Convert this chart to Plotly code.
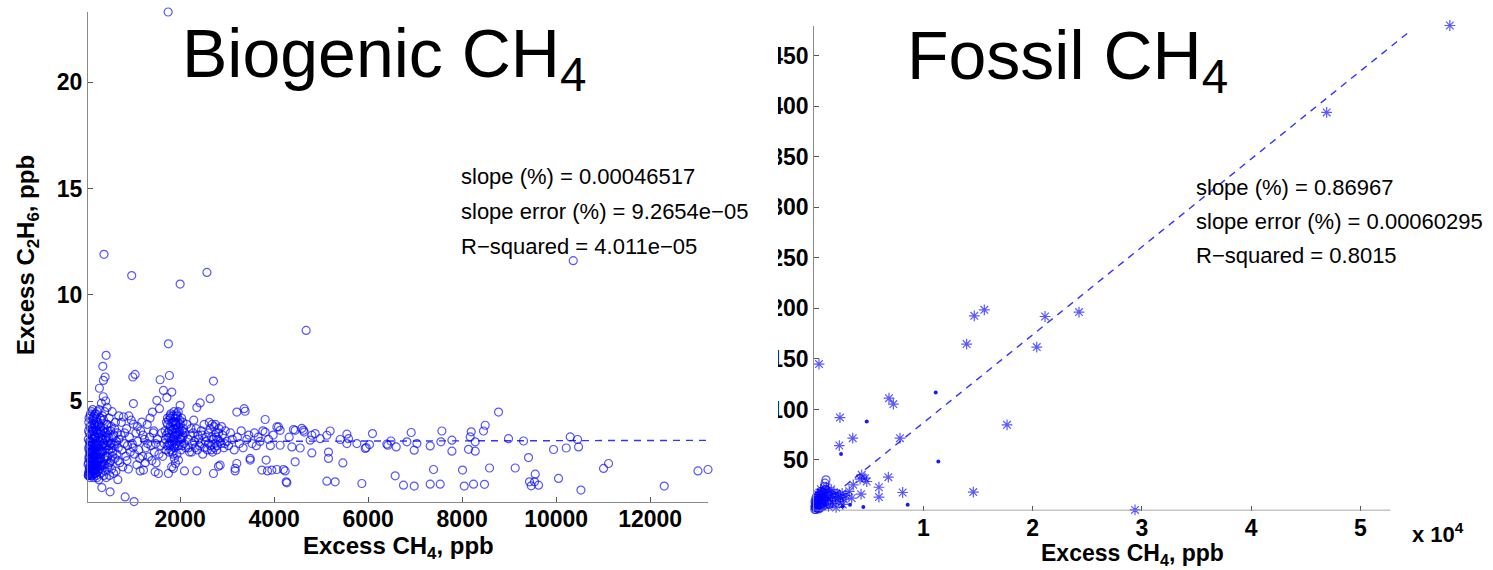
import plotly.graph_objects as go

# ---------------- data ----------------
# Biogenic CH4 panel: (excess CH4 ppb, excess C2H6 ppb)
bio_a1 = [(45,1.5),(50,2.1),(55,2.8),(60,1.7),(65,2.4),(70,3.1),(75,1.9),(80,2.6),(85,1.4),(90,2.2),
          (95,3.4),(100,1.8),(105,2.9),(110,2.3),(115,1.6),(120,3.7),(125,2.0),(130,2.7),(135,1.5),(140,3.2),
          (145,2.5),(150,1.9),(155,4.1),(160,2.2),(165,3.0),(170,1.7),(175,2.8),(180,3.9),(185,2.4),(190,1.6),
          (195,3.3),(200,2.1),(205,2.9),(210,4.4),(215,1.8),(220,2.6),(225,3.6),(230,2.0),(235,1.4),(240,3.0),
          (245,2.3),(250,4.0)]
bio_a2 = [(255,1.7),(260,3.5),(265,2.7),(270,1.3),(275,4.6),(280,2.2),(283,5.6),(290,3.1),(295,1.9),(300,4.2),
          (305,2.5),(310,3.8),(315,1.6),(320,2.9),(325,4.9),(330,2.1),(334,0.93),(340,3.4),(345,1.8),(350,4.3),
          (355,6.63),(360,2.6),(365,5.2),(368,5.97),(370,3.0),(375,1.5),(380,11.9),(385,3.7),(390,2.3),(395,4.5),
          (404,6.13),(405,1.7),(410,3.2),(415,5.0),(420,2.8),(425,7.15),(430,1.4),(435,3.9),(440,2.4),(445,4.7),
          (450,3.1)]
bio_a3 = [(460,1.9),(470,3.6),(480,2.7),(490,4.2),(500,1.5),(510,0.73),(515,3.0),(525,2.2),(535,3.8),(545,1.8),
          (555,4.5),(565,2.6),(575,3.3),(585,1.6),(595,2.9),(605,3.7),(615,2.3),(625,4.0),(635,1.7),(645,3.1),
          (655,2.5),(665,3.5),(675,1.3),(685,2.8),(695,4.3),(700,3.2)]
bio_a5 = [(48,1.51),(52,3.6),(58,2.3),(62,4.2),(68,1.8),(72,2.9),(78,3.8),(82,1.6),(88,2.5),(92,4.4),
          (98,2.0),(102,3.1),(108,1.5),(112,3.9),(118,2.6),(122,1.9),(128,3.4),(132,2.2),(138,4.6),(142,1.7),
          (148,2.8),(152,3.6),(158,1.4),(162,2.4),(168,3.3),(172,4.3),(178,2.0),(182,1.6),(188,3.0),(192,2.6),
          (198,3.8),(202,1.8),(208,2.4),(212,3.3),(218,4.0),(222,1.5),(228,2.9),(232,3.5),(238,2.1),(242,4.5),
          (248,1.9),(262,2.5),(272,3.3),(286,1.8),(298,2.6),(312,3.5),(328,2.0),(342,2.7),(358,3.6),(372,4.1),
          (388,2.0),(402,2.9),(418,3.5),(432,2.2),(448,3.9),(465,2.4),(485,3.3),(505,2.1),(530,3.0),(560,2.4)]
bio_a6 = [(42,2.0),(46,3.2),(53,1.6),(57,4.0),(63,2.7),(67,3.5),(73,1.5),(77,2.3),(83,3.1),(87,4.3),
          (93,1.7),(97,2.6),(103,3.8),(107,2.1),(113,2.9),(117,4.5),(123,1.6),(127,3.0),(133,2.4),(137,3.6),
          (143,2.0),(147,4.2),(153,2.7),(157,3.2),(163,1.8),(167,3.9),(173,2.3),(177,3.4),(183,2.9),(187,4.4),
          (193,2.0),(197,2.5),(203,3.7),(207,1.6),(213,2.8),(217,3.1),(223,4.2),(227,2.2),(233,2.6),(237,3.8),
          (252,2.9),(267,3.9),(278,2.0),(292,3.6),(303,2.3),(318,4.1),(332,2.6),(348,3.2),(362,2.0),(378,3.0),
          (392,3.5),(408,2.4),(422,3.3),(438,2.9),(455,3.4),(475,2.0),(495,2.9),(520,3.6),(550,2.8),(590,3.4)]
bio_a4 = [(620,3.0),(680,2.2),(720,2.1),(740,3.4),(750,4.0),(760,2.7),(780,1.9),(794,4.25),(810,3.0),(820,3.5),
          (830,0.49),(845,2.4),(860,3.7),(870,2.2),(880,2.9),(900,1.8),(910,4.3),(920,3.3),(940,2.6),(960,4.1),
          (970,10.9),(980,3.0),(993,6.13),(1000,2.8),(1006,4.88),(1006,3.91),(1020,0.27),(1030,2.5),(1042,6.25),(1060,3.5),
          (1080,2.0),(1090,3.8),(1100,3.1),(1120,2.7),(1140,2.3),(1149,1.71),(1160,3.6),(1185,4.01),(1200,2.4),(1210,3.4),
          (1220,1.75),(1240,3.2),(1260,2.1),(1270,2.8),(1300,3.9),(1310,3.0),(1325,2.37),(1350,3.3),(1360,4.2),(1380,2.9),
          (1400,2.2),(1411,4.48),(1430,3.5),(1440,3.6),(1450,2.6),(1468,1.67),(1480,3.0),(1489,2.09),(1504,5.03),(1520,3.2),
          (1538,1.59),(1550,2.5),(1560,4.64),(1574,6.0),(1590,2.9),(1610,3.5),(1630,2.4)]
bio_b = [(1645,5.5),(1660,3.0),(1680,3.6),(1690,3.2),(1700,2.7),(1710,4.0),(1717,5.16),(1730,4.2),(1740,3.5),(1745,23.3),
         (1751,1.59),(1751,7.69),(1760,3.3),(1770,3.0),(1772,6.2),(1780,2.9),(1790,3.8),(1795,4.2),(1800,4.4),(1810,3.1),
         (1815,3.6),(1820,1.9),(1823,5.42),(1830,2.6),(1840,3.5),(1845,4.3),(1850,4.0),(1850,2.5),(1857,1.83),(1860,3.2),
         (1865,2.9),(1870,4.5),(1880,2.8),(1880,2.3),(1885,3.4),(1890,3.7),(1900,4.2),(1900,2.06),(1905,3.9),(1910,3.0),
         (1920,3.9),(1925,4.4),(1930,2.5),(1940,4.3),(1945,3.1),(1950,3.4),(1960,4.5),(1964,2.22),(1970,3.8),(1975,3.5),
         (1980,2.9),(1990,4.1),(1995,3.2),(2000,10.5),(2000,4.8),(2010,3.3),(2020,2.7),(2030,4.2),(2040,3.6),(2050,3.3),
         (2060,4.0),(2070,3.7),(2080,3.0),(2092,1.71),(2100,3.5),(2120,2.8),(2140,3.9)]
bio_b2 = [(1705,3.4),(1725,2.9),(1735,3.9),(1755,4.1),(1765,3.6),(1785,4.3),(1805,3.3),(1825,4.0),(1835,3.0),(1855,3.7),
          (1875,3.3),(1895,4.0),(1915,3.5),(1935,3.7),(1955,4.0),(1985,3.6),(2005,3.9),(2025,3.2),(2045,2.9),(2065,3.4),
          (1870,3.1),(1910,4.3),(1940,2.9),(1800,2.7),(1760,2.6)]
bio_c = [(2170,3.2),(2200,2.6),(2230,3.7),(2260,3.0),(2290,4.1),(2320,2.8),(2355,4.69),(2355,1.71),(2380,3.4),(2410,2.9),
         (2426,4.91),(2450,3.6),(2480,2.5),(2510,3.9),(2540,3.1),(2570,11.05),(2580,2.7),(2600,3.5),(2620,4.0),(2638,5.11),
         (2650,2.9),(2670,3.3),(2690,2.6),(2709,5.94),(2709,1.59),(2720,3.8),(2740,3.0),(2760,3.5),(2780,2.7),(2800,3.2),
         (2815,1.93),(2830,3.7),(2851,1.98),(2870,3.0),(2900,3.4),(2930,2.8),(2960,3.6),(2990,3.1)]
bio_c2 = [(2180,2.8),(2215,3.4),(2245,2.6),(2275,3.5),(2305,3.1),(2340,3.7),(2370,2.7),(2395,3.2),(2440,3.0),(2470,3.4),
          (2520,2.8),(2560,3.3),(2610,3.0),(2640,3.7),(2660,2.7),(2680,3.9),(2700,3.2),(2730,2.8),(2750,3.9),(2770,3.3),
          (2790,2.9),(2820,3.5),(2850,3.1),(2880,3.8),(2950,3.0)]
bio_d = [(3030,2.9),(3070,3.5),(3110,3.2),(3150,2.7),(3170,1.71),(3170,1.83),(3206,2.06),(3206,4.48),(3220,3.3),(3260,3.0),
         (3300,3.6),(3340,2.8),(3362,4.64),(3383,4.52),(3420,3.2),(3460,3.4),(3490,2.22),(3490,2.3),(3530,3.0),(3580,3.5),
         (3620,2.9),(3660,3.3),(3700,3.1),(3738,1.75),(3760,3.6),(3809,4.13),(3809,3.54),(3830,2.22),(3859,1.71),(3880,3.2),
         (3920,2.9),(3951,1.75),(3980,3.4),(4058,3.78),(4058,1.78),(4092,3.78),(4128,3.62),(4128,2.92),(4198,1.78),(4234,1.71),
         (4256,1.2),(4270,1.15),(4320,3.3),(4377,2.84),(4411,3.66),(4447,2.14),(4447,3.62),(4554,2.79),(4589,3.71),(4624,3.62),
         (4639,3.54),(4681,8.32),(4766,3.16),(4802,2.56),(4802,3.39),(4873,3.47),(4979,3.23),(5122,1.23),(5122,3.39),(5156,2.6),
         (5156,2.3),(5192,3.59),(5298,1.2),(5405,3.19),(5462,2.09),(5547,3.44),(5547,3.0),(5582,3.23),(5760,3.0),(5866,1.12),
         (5937,2.77),(5958,2.81)]
bio_e = [(6029,2.95),(6092,3.47),(6398,2.97),(6420,2.92),(6484,3.12),(6575,1.48),(6597,2.84),(6752,1.04),(6824,3.08),(6916,3.52),
         (6980,2.69),(6980,1.0),(7037,3.0),(7320,2.89),(7320,1.09),(7391,1.78),(7533,1.09),(7547,3.08),(7569,3.59),(7782,3.16),
         (7782,2.64),(8008,1.75),(8044,1.0),(8135,2.73),(8171,3.31),(8193,3.55),(8242,1.09),(8278,3.08),(8278,2.64),(8454,3.59),
         (8475,1.08),(8490,3.86),(8582,1.85),(8774,4.48),(8986,3.23),(9129,1.85),(9306,3.12),(9412,2.34),(9433,1.2),(9469,1.01),
         (9540,1.2),(9555,1.56),(9625,1.04),(9944,2.72),(10050,1.36),(10214,2.79),(10299,3.31),(10363,11.6),(10455,3.19),(10476,2.84),
         (10527,0.81),(11008,1.83),(11114,2.06),(12299,1.0),(13017,1.71),(13230,1.78)]
bio_fit_x = [40, 13230]
bio_fit_y = [3.09, 3.15]
bio_stats = ["slope (%) = 0.00046517", "slope error (%) = 9.2654e\u221205", "R\u2212squared = 4.011e\u221205"]

# Fossil CH4 panel
fos_star = [(58200,480),(46920,394),(430,144.9),(14650,192.7),(15570,198.6),(13950,164.7),(21130,192.0),(24240,196.4),
            (20370,161.7),(17650,84.8),(14560,18.2),(6840,111.2),(7240,105.3),(2350,92.0),(7850,71.6),(3520,71.6),
            (2290,64.3),(4340,35.3),(6780,33.0),(8090,17.8),(5920,23.0),(5920,13.3),(3420,12.2),(4280,16.2),
            (3570,25.4),(4800,28.7),(4190,31.0),(4640,32.0),(29370,0.6),
            (150,4),(300,9),(450,14),(600,18),(750,11),(900,15),(1050,19),(1200,13),(1350,17),(1500,10),
            (1650,14),(1800,18),(1950,12),(2100,16),(2250,9),(2400,13),(2550,17),(2700,11),(900,6),(1300,4),
            (1700,7),(2000,3),(600,21),(1100,23),(2900,15),(3200,19),(350,16),(1550,21),(2600,6)]
fos_circle = [(50,1),(120,3),(200,6),(280,2),(350,9),(420,5),(500,12),(580,8),(650,15),(720,4),
              (800,18),(880,10),(950,24),(1070,30.4),(980,27),(1020,21),(870,13),(760,7),(620,19),(460,16),
              (300,12),(180,10),(90,7),(540,2.5),(400,1.5),(680,11),(240,14),(1150,9),(1250,16),(1350,6),
              (60,4),(150,1),(230,3),(320,6),(130,12),(70,9),(410,11),(260,8),(560,5),(700,13)]
fos_dot = [(11120,116.8),(11360,48.5),(4800,88.1),(2450,55.8),(8550,5.6),(4490,3.4),(2600,4.0),(3270,5.6)]
fos_fit_x = [0, 54700]
fos_fit_y = [0, 475.7]
fos_stats = ["slope (%) = 0.86967", "slope error (%) = 0.00060295", "R\u2212squared = 0.8015"]

bio_xticks = [2000, 4000, 6000, 8000, 10000, 12000]
bio_xticktext = ["2000", "4000", "6000", "8000", "10000", "12000"]
bio_yticks = [5, 10, 15, 20]
fos_xticks = [10000, 20000, 30000, 40000, 50000]
fos_xticktext = ["1", "2", "3", "4", "5"]
fos_yticks = [50, 100, 150, 200, 250, 300, 350, 400, 450]

# ---------------- figure ----------------
W, H = 1493, 570
def px(x): return x / W
def py(y): return 1 - y / H

FONT = "Liberation Sans, Arial, Helvetica, sans-serif"
BLUE = "rgba(0,0,255,0.66)"

bio_all = (bio_a1 + bio_a5 + bio_a6 + bio_a2 + bio_a3 + bio_a4 + bio_b + bio_b2 + bio_c + bio_c2
           + bio_d + bio_e)
fig = go.Figure()
fig.add_trace(go.Scatter(x=bio_fit_x, y=bio_fit_y, mode="lines", xaxis="x", yaxis="y",
                         line=dict(color="rgba(0,0,255,0.8)", width=1.4, dash="7px,6px")))
fig.add_trace(go.Scatter(x=[p[0] for p in bio_all], y=[p[1] for p in bio_all], mode="markers",
                         xaxis="x", yaxis="y", cliponaxis=False,
                         marker=dict(symbol="circle-open", size=8, color=BLUE, line=dict(width=1.2))))

fig.add_trace(go.Scatter(x=fos_fit_x, y=fos_fit_y, mode="lines", xaxis="x2", yaxis="y2",
                         line=dict(color="rgba(0,0,255,0.8)", width=1.4, dash="7px,6px")))
fig.add_trace(go.Scatter(x=[p[0] for p in fos_circle], y=[p[1] for p in fos_circle], mode="markers",
                         xaxis="x2", yaxis="y2", cliponaxis=False,
                         marker=dict(symbol="circle-open", size=8, color=BLUE, line=dict(width=1.2))))
fig.add_trace(go.Scatter(x=[p[0] for p in fos_star], y=[p[1] for p in fos_star], mode="markers",
                         xaxis="x2", yaxis="y2", cliponaxis=False,
                         marker=dict(symbol="asterisk-open", size=9, color="rgba(0,0,255,0.65)", line=dict(width=1.2))))
fig.add_trace(go.Scatter(x=[p[0] for p in fos_dot], y=[p[1] for p in fos_dot], mode="markers",
                         xaxis="x2", yaxis="y2", cliponaxis=False,
                         marker=dict(symbol="circle", size=4, color="rgba(0,0,255,0.9)")))

tickfont = dict(family=FONT, size=23, color="black", weight="bold")
axis_common = dict(showgrid=False, zeroline=False, ticks="inside", ticklen=5, tickwidth=1,
                   tickcolor="#555555", linecolor="#8a8a8a", linewidth=1.3, tickfont=tickfont)

fig.update_layout(
    width=W, height=H, margin=dict(l=0, r=0, t=0, b=0),
    paper_bgcolor="white", plot_bgcolor="white", showlegend=False,
    xaxis=dict(domain=[px(88), px(708)], range=[40, 13230], tickvals=bio_xticks, ticktext=bio_xticktext,
               showline=True, anchor="y", ticklabelstandoff=-4, **axis_common),
    yaxis=dict(domain=[py(502), py(12)], range=[0.25, 23.3], tickvals=bio_yticks,
               showline=True, anchor="x", **axis_common),
    xaxis2=dict(domain=[px(814.3), px(1458.6)], range=[0, 59000], tickvals=fos_xticks,
                ticktext=fos_xticktext, showline=False, anchor="y2", ticklabelstandoff=1, **axis_common),
    yaxis2=dict(domain=[py(510.5), py(25.5)], range=[0, 480], tickvals=fos_yticks,
                showline=True, anchor="x2", **axis_common),
)

# right panel x axis line (only up to 5.275e4, as in the original)
fig.add_shape(type="line", xref="x2", yref="y2", x0=0, x1=52750, y0=0, y1=0,
              line=dict(color="#8a8a8a", width=1.3))
# the right panel is cut on its left side: hide the leading part of its tick labels
fig.add_shape(type="rect", xref="paper", yref="paper", x0=px(758), x1=px(778), y0=0, y1=1,
              fillcolor="white", line=dict(width=0), layer="above")

ann = []
def add_text(text, x, y, size, xanchor="left", bold=False, textangle=0, yanchor="middle"):
    ann.append(dict(text=text, x=px(x), y=py(y), xref="paper", yref="paper", showarrow=False,
                    xanchor=xanchor, yanchor=yanchor, textangle=textangle,
                    font=dict(family=FONT, size=size, color="black", weight="bold" if bold else "normal")))

add_text("Biogenic CH<sub>4</sub>", 180, 58, 68)
add_text("Fossil CH<sub>4</sub>", 905, 60, 68)
for i, t in enumerate(bio_stats):
    add_text(t, 459, 176 + i * 35, 22)
for i, t in enumerate(fos_stats):
    add_text(t, 1194, 187 + i * 34, 22)
add_text("Excess CH<sub>4</sub>, ppb", 399, 547, 24, xanchor="center", bold=True)
add_text("Excess CH<sub>4</sub>, ppb", 1132, 554, 23, xanchor="center", bold=True)
add_text("Excess C<sub>2</sub>H<sub>6</sub>, ppb", 27, 255, 24, xanchor="center", bold=True, textangle=-90)
add_text("x 10<sup>4</sup>", 1410, 533, 22, bold=True)
fig.update_layout(annotations=ann)

fig.write_html("out.html")
